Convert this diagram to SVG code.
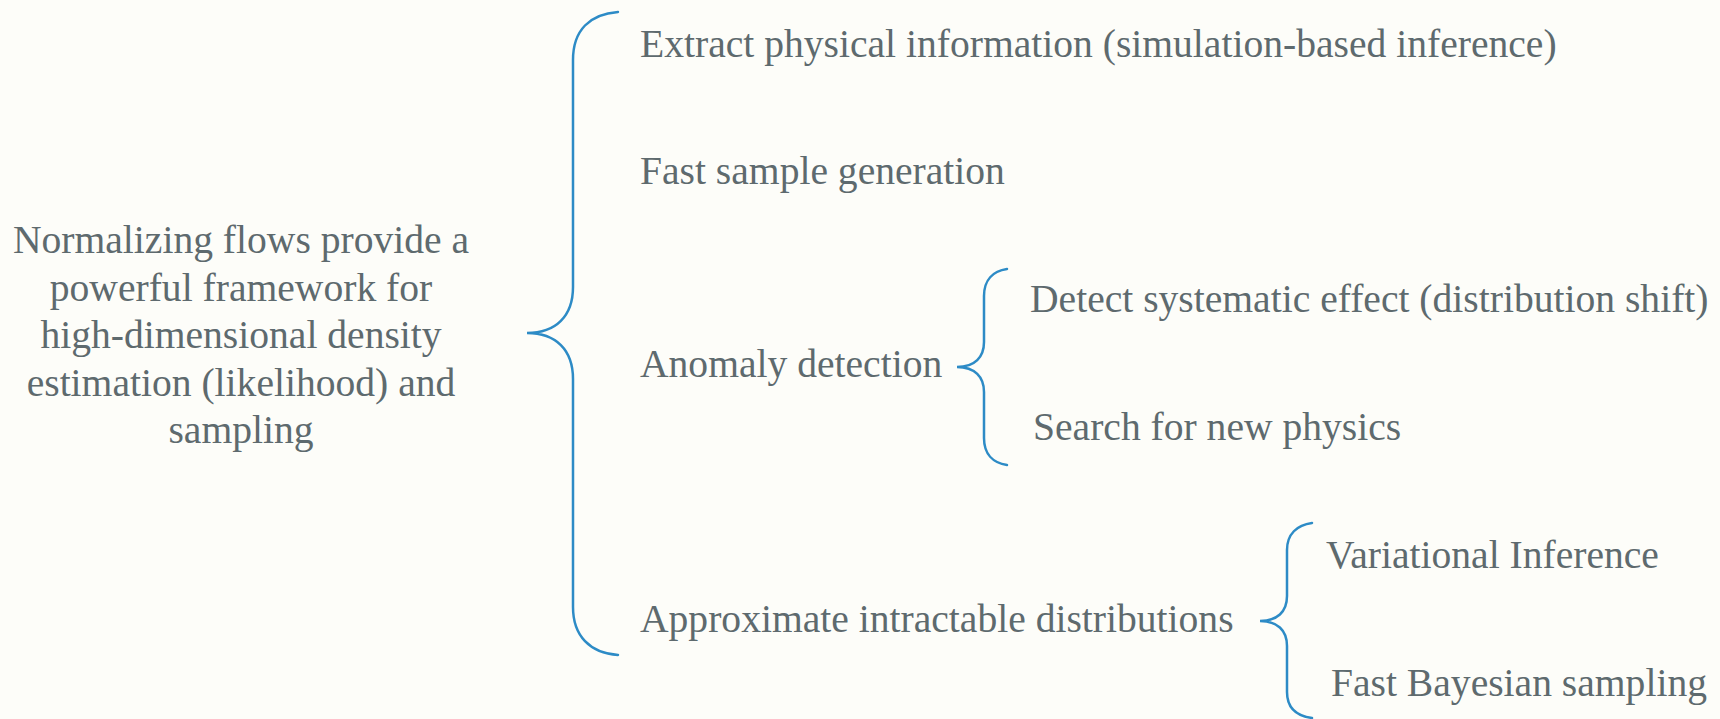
<svg xmlns="http://www.w3.org/2000/svg" width="1720" height="719" viewBox="0 0 1720 719">
<style>
.t{font-family:"Liberation Serif","Times New Roman",serif;font-size:39.6px;fill:#5e6a6e}
.b{fill:none;stroke:#2d8bc6;stroke-width:2.5;stroke-linecap:round}
</style>
<rect width="1720" height="719" fill="#fdfdf9"/>
<g id="connectors">
<path class="b" d="M618 12 C590 14 573 30 573 60 L573 287 C573 316 556 333 527 333 C556 333 573 350 573 379 L573 607 C573 636 590 653 618 655"/>
<path class="b" d="M1007 269 C993 271 984 280 984 296 L984 342 C984 357 975 367 957 367 C975 367 984 377 984 392 L984 438 C984 454 993 463 1007 465"/>
<path class="b" d="M1312 523 C1297 525 1287 534 1287 550 L1287 596 C1287 612 1277 621 1260 621 C1277 621 1287 630 1287 646 L1287 692 C1287 708 1297 716 1312 718"/>
</g>
<g id="root">
<text class="t" text-anchor="middle" x="241" y="253">Normalizing flows provide a</text>
<text class="t" text-anchor="middle" x="241" y="301">powerful framework for</text>
<text class="t" text-anchor="middle" x="241" y="348">high-dimensional density</text>
<text class="t" text-anchor="middle" x="241" y="396">estimation (likelihood) and</text>
<text class="t" text-anchor="middle" x="241" y="443">sampling</text>
</g>
<g id="extract"><text class="t" x="640" y="57">Extract physical information (simulation-based inference)</text></g>
<g id="fast-sample"><text class="t" x="640" y="184">Fast sample generation</text></g>
<g id="anomaly"><text class="t" x="640" y="377">Anomaly detection</text></g>
<g id="approx"><text class="t" x="640" y="632">Approximate intractable distributions</text></g>
<g id="detect"><text class="t" x="1030" y="312">Detect systematic effect (distribution shift)</text></g>
<g id="search"><text class="t" x="1033" y="440">Search for new physics</text></g>
<g id="variational"><text class="t" x="1326" y="568">Variational Inference</text></g>
<g id="bayesian"><text class="t" x="1331" y="696">Fast Bayesian sampling</text></g>
</svg>
